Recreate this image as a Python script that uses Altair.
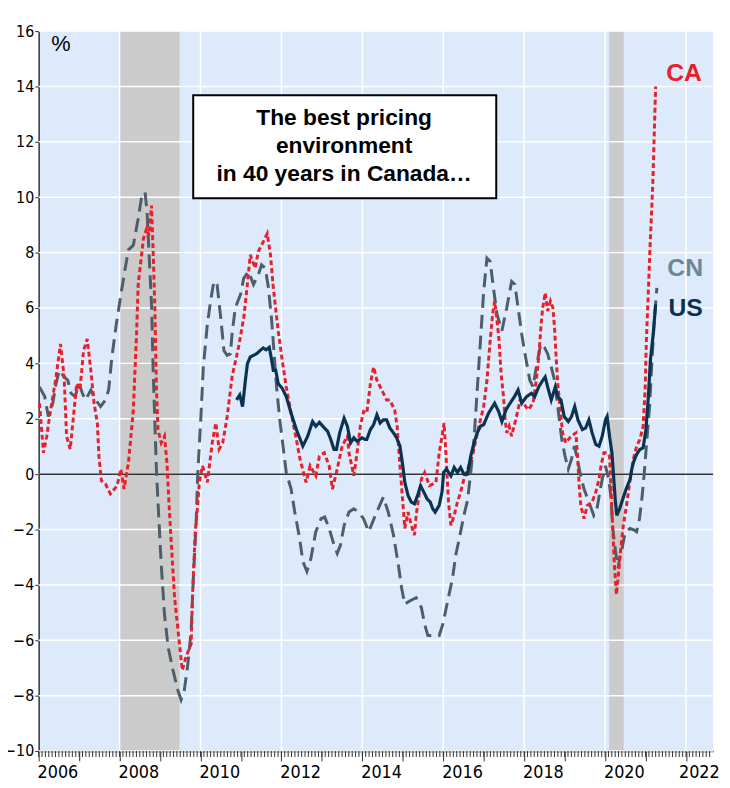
import altair as alt
import pandas as pd

# ---------------- data ----------------
ca_t = [2006.02, 2006.12, 2006.20, 2006.27, 2006.43, 2006.54, 2006.63, 2006.69, 2006.78, 2006.86,
        2006.94, 2007.02, 2007.11, 2007.20, 2007.29, 2007.37, 2007.45, 2007.49, 2007.55, 2007.65,
        2007.77, 2007.94, 2008.03, 2008.11, 2008.22, 2008.34, 2008.42, 2008.46, 2008.59, 2008.67,
        2008.73, 2008.79, 2008.83, 2008.87, 2008.91, 2008.95, 2009.03, 2009.11, 2009.17, 2009.22,
        2009.28, 2009.36, 2009.48, 2009.55, 2009.64, 2009.77, 2009.80, 2009.87, 2009.93, 2009.97,
        2010.05, 2010.17, 2010.29, 2010.38, 2010.46, 2010.55, 2010.66, 2010.78, 2010.94, 2011.07,
        2011.15, 2011.23, 2011.35, 2011.43, 2011.55, 2011.65, 2011.73, 2011.80, 2011.92, 2012.02,
        2012.12, 2012.24, 2012.37, 2012.46, 2012.61, 2012.71, 2012.85, 2012.94, 2013.06, 2013.18,
        2013.26, 2013.38, 2013.50, 2013.63, 2013.67, 2013.79, 2013.87, 2013.95, 2014.03, 2014.11,
        2014.20, 2014.28, 2014.36, 2014.48, 2014.60, 2014.68, 2014.80, 2014.86, 2014.93, 2015.00,
        2015.05, 2015.13, 2015.21, 2015.29, 2015.33, 2015.46, 2015.54, 2015.66, 2015.82, 2015.90,
        2015.97, 2016.02, 2016.07, 2016.13, 2016.19, 2016.27, 2016.35, 2016.43, 2016.51, 2016.72,
        2016.88, 2017.00, 2017.08, 2017.16, 2017.22, 2017.27, 2017.33, 2017.38, 2017.43, 2017.49,
        2017.53, 2017.57, 2017.63, 2017.69, 2017.75, 2017.81, 2017.90, 2017.98, 2018.10, 2018.22,
        2018.30, 2018.36, 2018.42, 2018.46, 2018.52, 2018.58, 2018.65, 2018.71, 2018.75, 2018.79,
        2018.83, 2018.90, 2018.95, 2019.03, 2019.16, 2019.28, 2019.32, 2019.36, 2019.40, 2019.48,
        2019.56, 2019.68, 2019.77, 2019.85, 2019.90, 2019.97, 2020.05, 2020.11, 2020.15, 2020.19,
        2020.23, 2020.28, 2020.33, 2020.38, 2020.45, 2020.53, 2020.62, 2020.70, 2020.78, 2020.86,
        2020.94, 2020.99, 2021.02, 2021.07, 2021.11, 2021.18, 2021.25]
ca_v = [2.56, 0.77, 1.37, 2.08, 3.51, 4.70, 3.50, 1.37, 0.90, 2.08,
        3.27, 3.04, 4.46, 4.88, 3.75, 2.56, 1.85, 0.65, -0.24, -0.35,
        -0.71, -0.42, 0.18, -0.54, 0.42, 2.32, 5.06, 6.85, 8.51, 8.87,
        8.63, 9.70, 8.04, 6.13, 3.15, 1.60, 1.13, 1.37, 0.42, -1.00,
        -2.56, -4.46, -6.13, -7.08, -6.60, -6.13, -4.46, -2.08, -1.13, -0.30,
        0.30, -0.30, 1.13, 1.85, 0.90, 1.13, 2.08, 3.51, 4.58, 5.65,
        6.73, 7.92, 7.44, 8.04, 8.39, 8.69, 7.92, 6.73, 5.18, 4.11,
        3.15, 2.20, 1.25, 0.54, -0.30, 0.30, -0.06, 0.65, 0.77, 0.30,
        -0.54, 0.18, 1.01, 1.37, 0.77, -0.06, 0.77, 1.73, 2.26, 2.20,
        3.27, 3.87, 3.39, 3.04, 2.68, 2.68, 2.32, 1.73, 0.30, -1.01,
        -1.96, -1.37, -1.85, -2.20, -1.49, -0.18, 0.06, -0.42, -0.30, 0.77,
        1.37, 1.85, 0.65, -1.01, -1.85, -1.49, -1.01, -0.65, -0.18, 0.65,
        1.73, 2.44, 3.39, 4.82, 5.77, 6.25, 5.54, 4.82, 3.63, 2.80,
        1.96, 1.49, 1.73, 1.37, 1.73, 2.08, 2.68, 2.56, 2.32, 2.56,
        3.39, 4.23, 5.42, 6.01, 6.55, 5.89, 6.25, 6.01, 5.30, 4.23,
        3.27, 2.20, 1.49, 1.13, 1.37, 1.49, 0.65, -0.42, -1.13, -1.61,
        -1.13, -1.01, -0.65, -0.18, 0.30, 0.77, 0.77, 0.65, -0.65, -1.96,
        -3.27, -4.35, -3.63, -2.80, -1.85, -1.13, -0.18, 0.54, 1.01, 1.25,
        1.73, 3.04, 4.82, 6.61, 8.15, 10.50, 14.00]

cn_t = [2006.02, 2006.15, 2006.24, 2006.35, 2006.43, 2006.51, 2006.63, 2006.72, 2006.80, 2006.90,
        2007.00, 2007.08, 2007.16, 2007.29, 2007.41, 2007.53, 2007.65, 2007.73, 2007.81, 2007.92,
        2008.02, 2008.14, 2008.22, 2008.34, 2008.46, 2008.55, 2008.63, 2008.68, 2008.73, 2008.79,
        2008.83, 2008.87, 2008.91, 2008.95, 2009.03, 2009.11, 2009.20, 2009.32, 2009.44, 2009.52,
        2009.60, 2009.68, 2009.77, 2009.82, 2009.89, 2009.93, 2010.01, 2010.07, 2010.17, 2010.25,
        2010.33, 2010.41, 2010.50, 2010.58, 2010.66, 2010.74, 2010.78, 2010.86, 2010.99, 2011.07,
        2011.19, 2011.31, 2011.43, 2011.51, 2011.60, 2011.68, 2011.76, 2011.82, 2011.88, 2011.96,
        2012.04, 2012.12, 2012.24, 2012.33, 2012.45, 2012.53, 2012.63, 2012.73, 2012.85, 2012.98,
        2013.07, 2013.18, 2013.30, 2013.38, 2013.46, 2013.55, 2013.67, 2013.79, 2013.91, 2014.03,
        2014.16, 2014.32, 2014.52, 2014.64, 2014.77, 2014.89, 2014.97, 2015.05, 2015.17, 2015.33,
        2015.46, 2015.54, 2015.62, 2015.74, 2015.90, 2015.99, 2016.11, 2016.23, 2016.31, 2016.43,
        2016.51, 2016.60, 2016.68, 2016.76, 2016.84, 2016.92, 2017.00, 2017.08, 2017.16, 2017.24,
        2017.33, 2017.45, 2017.57, 2017.69, 2017.77, 2017.85, 2017.94, 2018.02, 2018.14, 2018.22,
        2018.30, 2018.41, 2018.50, 2018.58, 2018.67, 2018.75, 2018.81, 2018.87, 2018.93, 2019.01,
        2019.09, 2019.17, 2019.24, 2019.30, 2019.38, 2019.48, 2019.60, 2019.72, 2019.80, 2019.87,
        2019.93, 2020.01, 2020.09, 2020.15, 2020.19, 2020.26, 2020.32, 2020.36, 2020.42, 2020.50,
        2020.62, 2020.72, 2020.78, 2020.85, 2020.91, 2020.97, 2021.02, 2021.10, 2021.15, 2021.21,
        2021.28]
cn_v = [3.15, 2.80, 2.08, 2.56, 3.27, 3.75, 3.51, 3.39, 2.92, 2.80,
        3.27, 2.92, 2.68, 3.04, 2.68, 2.44, 2.68, 3.04, 4.23, 5.42,
        6.37, 7.44, 8.10, 8.27, 9.23, 10.06, 10.18, 9.46, 7.92, 6.13,
        3.75, 1.96, 0.18, -1.01, -3.27, -5.06, -6.25, -7.08, -7.80, -8.15,
        -7.80, -6.96, -5.65, -3.87, -1.85, -0.06, 2.08, 3.87, 5.42, 6.25,
        6.96, 6.85, 5.65, 4.46, 4.29, 4.35, 5.06, 6.01, 6.49, 7.08,
        7.32, 6.85, 7.20, 7.56, 7.44, 6.73, 5.54, 4.35, 3.15, 1.96,
        1.01, 0.06, -0.54, -1.37, -2.32, -3.15, -3.51, -3.04, -2.08, -1.61,
        -1.55, -1.96, -2.56, -2.86, -2.56, -1.85, -1.37, -1.25, -1.37, -1.61,
        -2.08, -1.49, -0.83, -1.37, -2.20, -3.27, -4.10, -4.70, -4.58, -4.46,
        -4.82, -5.42, -5.83, -5.83, -5.83, -5.42, -4.58, -3.75, -2.92, -2.08,
        -1.49, -0.95, 0.06, 1.25, 3.04, 4.82, 6.61, 7.80, 7.68, 6.73,
        5.77, 5.18, 6.01, 6.96, 6.85, 6.01, 5.06, 4.35, 3.39, 3.15,
        3.87, 4.70, 4.58, 4.35, 3.87, 3.39, 2.68, 1.96, 1.25, 0.65,
        0.18, 0.54, 1.01, 0.65, 0.06, -0.54, -1.01, -1.49, -1.25, -0.65,
        -0.18, 0.30, -0.18, -0.89, -1.96, -2.80, -3.39, -3.04, -2.68, -2.08,
        -1.96, -2.02, -2.08, -1.61, -0.89, 0.06, 1.01, 2.44, 3.87, 5.42,
        6.73]

us_t = [2010.89, 2010.97, 2011.04, 2011.11, 2011.16, 2011.23, 2011.31, 2011.39, 2011.47, 2011.55,
        2011.62, 2011.70, 2011.76, 2011.80, 2011.86, 2011.92, 2012.02, 2012.12, 2012.24, 2012.37,
        2012.53, 2012.65, 2012.77, 2012.85, 2012.94, 2013.06, 2013.14, 2013.22, 2013.30, 2013.36,
        2013.44, 2013.55, 2013.63, 2013.71, 2013.79, 2013.87, 2013.99, 2014.07, 2014.11, 2014.20,
        2014.28, 2014.36, 2014.44, 2014.52, 2014.60, 2014.68, 2014.77, 2014.85, 2014.93, 2015.00,
        2015.05, 2015.13, 2015.21, 2015.29, 2015.38, 2015.44, 2015.52, 2015.60, 2015.68, 2015.74,
        2015.80, 2015.90, 2015.97, 2016.01, 2016.08, 2016.19, 2016.27, 2016.35, 2016.43, 2016.51,
        2016.60, 2016.68, 2016.76, 2016.84, 2016.92, 2017.00, 2017.12, 2017.27, 2017.37, 2017.45,
        2017.55, 2017.65, 2017.76, 2017.85, 2017.94, 2018.06, 2018.18, 2018.26, 2018.36, 2018.46,
        2018.52, 2018.58, 2018.67, 2018.77, 2018.83, 2018.91, 2018.99, 2019.09, 2019.17, 2019.25,
        2019.33, 2019.44, 2019.52, 2019.60, 2019.68, 2019.77, 2019.85, 2019.93, 2020.01, 2020.05,
        2020.11, 2020.17, 2020.21, 2020.25, 2020.29, 2020.36, 2020.44, 2020.52, 2020.62, 2020.66,
        2020.70, 2020.78, 2020.86, 2020.94, 2021.01, 2021.07, 2021.12, 2021.19, 2021.25]
us_v = [2.68, 2.86, 2.44, 3.39, 3.99, 4.23, 4.29, 4.35, 4.46, 4.56,
        4.49, 4.58, 4.11, 3.75, 3.75, 3.27, 3.10, 2.80, 2.20, 1.61,
        1.01, 1.37, 1.90, 1.73, 1.87, 1.67, 1.55, 1.25, 0.89, 0.89,
        1.49, 2.02, 1.73, 1.13, 1.31, 1.19, 1.31, 1.25, 1.25, 1.61,
        1.79, 2.14, 1.85, 1.96, 1.96, 1.67, 1.49, 1.31, 1.01, 0.30,
        -0.30, -0.77, -1.01, -1.07, -0.71, -0.42, -0.65, -0.89, -1.01, -1.25,
        -1.37, -1.13, -0.65, 0.06, 0.18, -0.06, 0.24, 0.06, 0.24, 0.00,
        0.00, 0.65, 1.13, 1.49, 1.73, 1.79, 2.20, 2.56, 2.26, 1.90,
        2.32, 2.56, 2.80, 3.04, 2.56, 2.80, 2.92, 2.80, 3.15, 3.39,
        3.51, 3.15, 2.68, 3.15, 2.80, 2.68, 2.08, 1.90, 2.08, 2.44,
        1.96, 1.61, 1.67, 1.96, 1.49, 1.07, 1.01, 1.37, 1.96, 2.08,
        1.37, 0.77, -0.06, -0.89, -1.49, -1.25, -0.89, -0.54, -0.18, 0.18,
        0.42, 0.71, 0.89, 0.95, 1.61, 2.80, 4.11, 5.06, 6.13]

recession_start = [2008.0, 2020.1]
recession_end = [2009.48, 2020.46]

y_ticks = [-10, -8, -6, -4, -2, 0, 2, 4, 6, 8, 10, 12, 14, 16]
x_years = list(range(2006, 2023))
x_grid = [2008, 2010, 2012, 2014, 2016, 2018, 2020, 2022]

box_lines = ["The best pricing", "environment", "in 40 years in Canada…"]
series_labels = ["CA", "CN", "US"]
# ---------------------------------------------------------------

W, H = 682, 728
X0, X1 = 2006, 2022.67
xs = alt.Scale(domain=[X0, X1], nice=False, zero=False)
ys = alt.Scale(domain=[-10, 16], nice=False, zero=False)

AXFONT = "Liberation Sans Narrow, Arial Narrow, DejaVu Sans Condensed, sans-serif"
TFONT = "Liberation Sans, Arial, Helvetica, sans-serif"

x_axis = alt.Axis(values=x_years, format="d",
                  labelExpr="datum.value % 2 == 0 ? datum.label : ''",
                  labelOffset={"condition": {"test": "datum.value >= 2022", "value": 13}, "value": 19},
                  tickSize=10, tickColor="#333333", domainColor="#333333",
                  domainWidth=1.5, grid=False, labelFont=AXFONT, labelFontSize=18,
                  labelColor="black", labelPadding=3, title=None, labelFlush=False,
                  labelOverlap=False)
y_axis = alt.Axis(values=y_ticks, format="d", tickSize=4, tickColor="#333333",
                  domainColor="#333333", domainWidth=1.5, grid=False, labelFont=AXFONT,
                  labelFontSize=16, labelColor="black", labelPadding=1, title=None,
                  labelFlush=False, labelOverlap=False)


def X(f):
    return alt.X(f, scale=xs, axis=x_axis)


def Y(f):
    return alt.Y(f, scale=ys, axis=y_axis)


ca = pd.DataFrame({"t": ca_t, "v": ca_v})
cn = pd.DataFrame({"t": cn_t, "v": cn_v})
us = pd.DataFrame({"t": us_t, "v": us_v})

rec = pd.DataFrame({"s": recession_start, "e": recession_end})
rec_layer = alt.Chart(rec).mark_rect(color="#CBCBCB").encode(
    x=X("s:Q"), x2="e:Q", y=alt.value(0), y2=alt.value(H))

hgrid = alt.Chart(pd.DataFrame({"v": y_ticks})).mark_rule(color="white", strokeWidth=1.5).encode(
    y=Y("v:Q"))
vgrid = alt.Chart(pd.DataFrame({"t": x_grid})).mark_rule(color="white", strokeWidth=1.5).encode(
    x=X("t:Q"))

zero = alt.Chart(pd.DataFrame({"v": [0]})).mark_rule(color="#333333", strokeWidth=1.5).encode(
    y=Y("v:Q"))

minor = pd.DataFrame({"t": [X0 + m / 12 for m in range(0, 200) if X0 + m / 12 <= X1]})
minor_ticks = alt.Chart(minor).mark_rule(color="#333333", strokeWidth=1).encode(
    x=X("t:Q"), y=alt.value(H), y2=alt.value(H + 6))

cn_line = alt.Chart(cn).mark_line(color="#4B5E6A", strokeWidth=3, strokeDash=[14, 7]).encode(
    x=X("t:Q"), y=Y("v:Q"))
ca_line = alt.Chart(ca).mark_line(color="#E8202A", strokeWidth=3, strokeDash=[5, 3]).encode(
    x=X("t:Q"), y=Y("v:Q"))
us_line = alt.Chart(us).mark_line(color="#0A3352", strokeWidth=3.2).encode(
    x=X("t:Q"), y=Y("v:Q"))

box = alt.Chart(pd.DataFrame({"a": [2009.82], "b": [2017.31], "c": [13.68], "d": [9.96]})).mark_rect(
    fill="white", stroke="black", strokeWidth=2).encode(
    x=X("a:Q"), x2="b:Q", y=Y("c:Q"), y2="d:Q")

box_text = alt.Chart(pd.DataFrame({"t": [2013.55] * 3, "v": [12.86, 11.86, 10.82], "s": box_lines})).mark_text(
    font=TFONT, fontSize=23, fontWeight="bold", color="black", align="center", baseline="middle").encode(
    x=X("t:Q"), y=Y("v:Q"), text="s:N")

lab = pd.DataFrame({"t": [2021.95, 2021.98, 2021.99], "v": [14.5, 7.44, 6.01], "s": series_labels,
                    "c": ["#E8202A", "#6B8797", "#0A3352"]})
labels = alt.Chart(lab).mark_text(font=TFONT, fontSize=25, fontWeight="bold", align="center",
                                  baseline="middle").encode(
    x=X("t:Q"), y=Y("v:Q"), text="s:N", color=alt.Color("c:N", scale=None))

pct = alt.Chart(pd.DataFrame({"t": [2006.55], "v": [15.52], "s": ["%"]})).mark_text(
    font=TFONT, fontSize=22, color="black", align="center", baseline="middle").encode(
    x=X("t:Q"), y=Y("v:Q"), text="s:N")

chart = alt.layer(
    rec_layer, hgrid, vgrid, zero, minor_ticks, cn_line, ca_line, us_line, box, box_text, labels, pct
).properties(
    width=W, height=H,
    autosize=alt.AutoSizeParams(type="none"),
    padding={"left": 31, "top": 19, "right": 9, "bottom": 31},
).configure_view(fill="#DDEAFB", stroke=None)

chart.save("out.html", embed_options={"renderer": "svg", "actions": False})
